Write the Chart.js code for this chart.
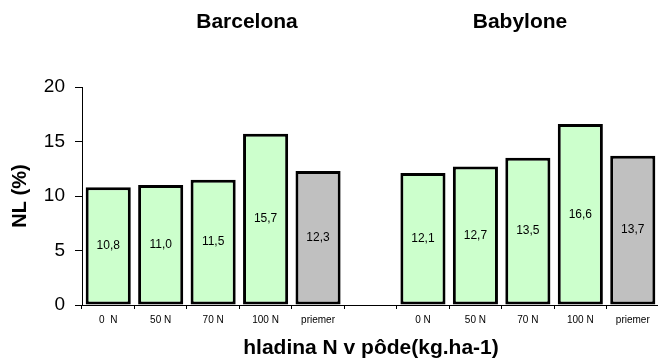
<!DOCTYPE html>
<html>
<head>
<meta charset="utf-8">
<script src="https://cdn.jsdelivr.net/npm/chart.js@4/dist/chart.umd.min.js"></script>
<style>
  html, body { margin: 0; padding: 0; background: #fff; overflow: hidden; }
  #wrap { position: relative; width: 664px; height: 359px; }
</style>
</head>
<body>
<div id="wrap"><canvas id="c"></canvas></div>
<script>
// Nitrogen levels for two varieties, with an empty slot separating the groups
const categories = ['0  N', '50 N', '70 N', '100 N', 'priemer', '', '0 N', '50 N', '70 N', '100 N', 'priemer'];
const nlValues   = [10.8, 11.0, 11.5, 15.7, 12.3, null, 12.1, 12.7, 13.5, 16.6, 13.7];
const groupNames = ['Barcelona', 'Babylone'];
const yTicks     = [0, 5, 10, 15, 20];

const FONT = '"Liberation Sans", Arial, Helvetica, sans-serif';
const GREEN = '#CCFFCC';
const GREY = '#C0C0C0';

const barColors = categories.map(c => c === 'priemer' ? GREY : GREEN);

// Value printed in the middle of each bar, with a decimal comma
const valueLabels = {
  id: 'valueLabels',
  afterDatasetsDraw(chart) {
    const ctx = chart.ctx;
    const meta = chart.getDatasetMeta(0);
    ctx.save();
    ctx.font = '12px ' + FONT;
    ctx.fillStyle = '#000';
    ctx.textAlign = 'center';
    ctx.textBaseline = 'middle';
    meta.data.forEach((bar, i) => {
      const v = nlValues[i];
      if (v === null) return;
      const mid = (bar.y + bar.base) / 2;
      ctx.fillText(v.toFixed(1).replace('.', ','), bar.x, mid);
    });
    ctx.restore();
  }
};

// Group headings and axis titles
const headings = {
  id: 'headings',
  afterDraw(chart) {
    const ctx = chart.ctx;
    ctx.save();
    ctx.fillStyle = '#000';
    ctx.textAlign = 'center';
    ctx.textBaseline = 'alphabetic';
    ctx.font = 'bold 21px ' + FONT;
    ctx.fillText(groupNames[0], 247, 28);
    ctx.fillText(groupNames[1], 520, 28);

    ctx.fillText('hladina N v pôde(kg.ha-1)', 371, 354);

    ctx.translate(26, 196);
    ctx.rotate(-Math.PI / 2);
    ctx.font = 'bold 20px ' + FONT;
    ctx.fillText('NL (%)', 0, 0);
    ctx.restore();
  }
};

new Chart(document.getElementById('c'), {
  type: 'bar',
  data: {
    labels: categories,
    datasets: [{
      data: nlValues,
      backgroundColor: barColors,
      borderColor: '#000',
      borderWidth: 3,
      borderSkipped: false,
      categoryPercentage: 1.0,
      barPercentage: 0.86
    }]
  },
  options: {
    responsive: true,
    maintainAspectRatio: false,
    animation: false,
    devicePixelRatio: 1,
    layout: { padding: { top: 87, right: 5, left: 0, bottom: 0 } },
    plugins: {
      legend: { display: false },
      tooltip: { enabled: false },
      title: { display: false }
    },
    scales: {
      x: {
        offset: true,
        grid: {
          offset: true,
          drawOnChartArea: false,
          drawTicks: true,
          tickLength: 4,
          color: '#000'
        },
        border: { display: true, color: '#000', width: 1 },
        ticks: {
          color: '#000',
          font: { family: FONT, size: 10 },
          padding: 5,
          maxRotation: 0,
          autoSkip: false
        },
        afterFit(scale) { scale.height = 54; }
      },
      y: {
        min: 0,
        max: 20,
        afterBuildTicks(scale) { scale.ticks = yTicks.map(v => ({ value: v })); },
        grid: {
          drawOnChartArea: false,
          drawTicks: true,
          tickLength: 7,
          color: '#000'
        },
        border: { display: true, color: '#000', width: 1 },
        ticks: {
          color: '#000',
          font: { family: FONT, size: 19 },
          padding: 10
        },
        afterFit(scale) { scale.width = 82; }
      }
    }
  },
  plugins: [valueLabels, headings]
});
</script>
</body>
</html>
